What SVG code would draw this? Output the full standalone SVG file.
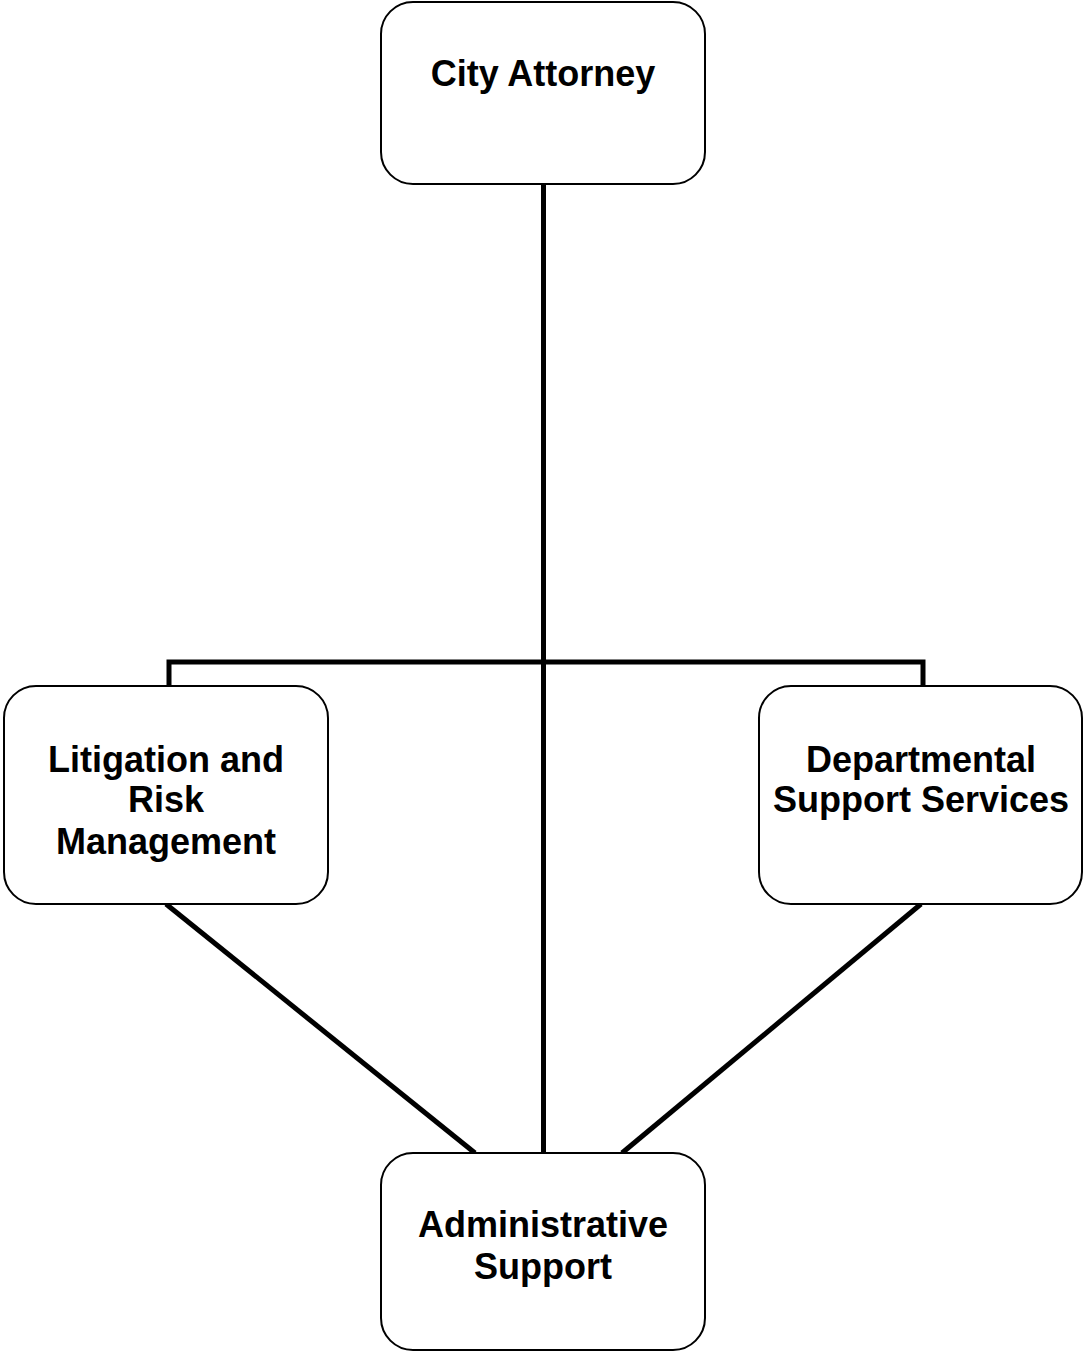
<svg xmlns="http://www.w3.org/2000/svg" width="1083" height="1353" viewBox="0 0 1083 1353">
<style>
.box{fill:#fff;stroke:#000;stroke-width:2}
.lbl{font-family:"Liberation Sans",Arial,Helvetica,sans-serif;font-weight:bold;font-size:36px;fill:#000;text-anchor:middle}
.con{fill:none;stroke:#000;stroke-width:5}
</style>
<rect width="1083" height="1353" fill="#fff"/>
<g id="connectors">
<line class="con" x1="543.5" y1="184" x2="543.5" y2="1153"/>
<polyline class="con" points="169,686 169,662 923,662 923,686"/>
<line class="con" x1="166" y1="904" x2="475" y2="1153"/>
<line class="con" x1="921" y1="904" x2="622" y2="1153"/>
</g>
<g id="city-attorney">
<rect class="box" x="381" y="2" width="324" height="182" rx="32"/>
<text class="lbl" x="543" y="86">City Attorney</text>
</g>
<g id="litigation">
<rect class="box" x="4" y="686" width="324" height="218" rx="32"/>
<text class="lbl" x="166" y="772">Litigation and</text>
<text class="lbl" x="166" y="812">Risk</text>
<text class="lbl" x="166" y="854">Management</text>
</g>
<g id="departmental">
<rect class="box" x="759" y="686" width="323" height="218" rx="32"/>
<text class="lbl" x="921" y="772">Departmental</text>
<text class="lbl" x="921" y="812">Support Services</text>
</g>
<g id="admin">
<rect class="box" x="381" y="1153" width="324" height="197" rx="32"/>
<text class="lbl" x="543" y="1237">Administrative</text>
<text class="lbl" x="543" y="1279">Support</text>
</g>
</svg>
